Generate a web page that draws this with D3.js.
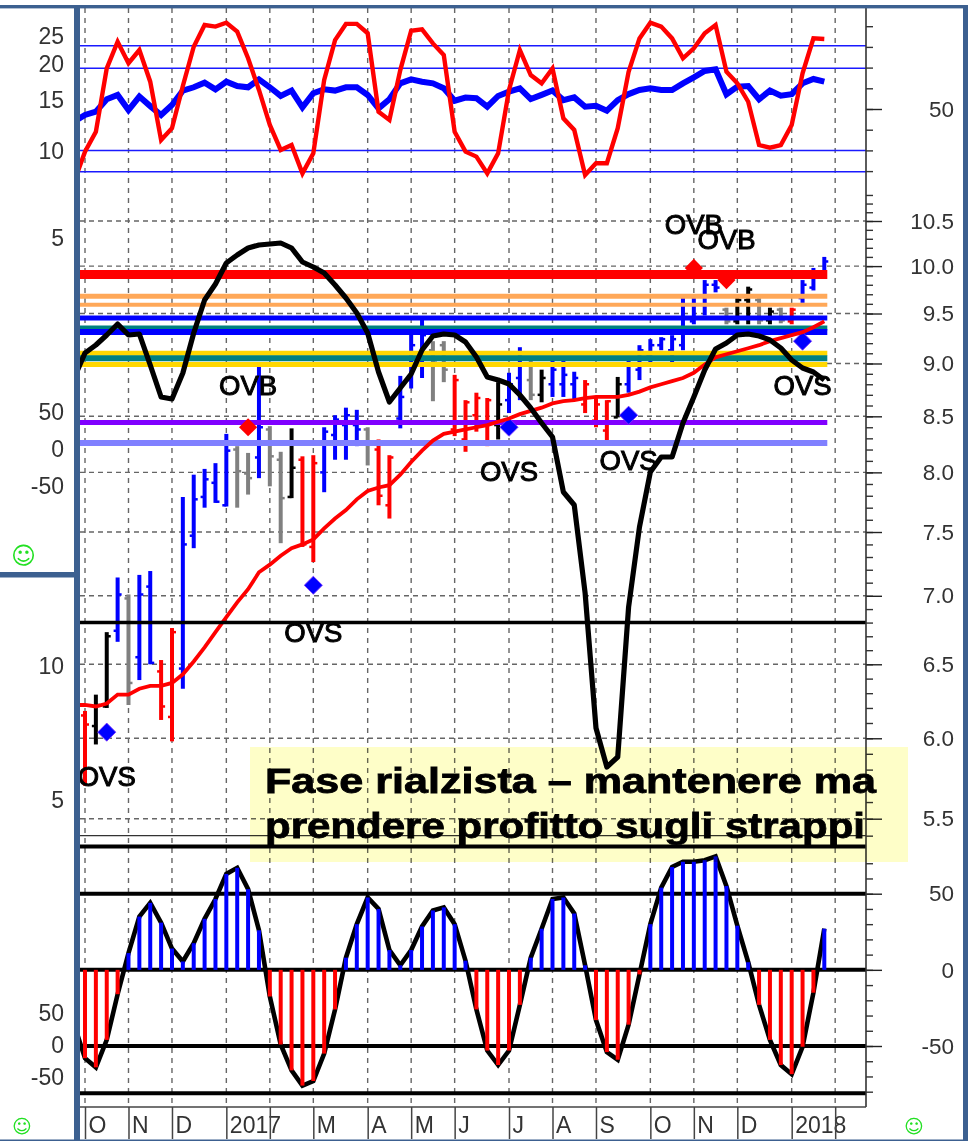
<!DOCTYPE html>
<html>
<head>
<meta charset="utf-8">
<style>
  html, body { margin: 0; padding: 0; background: #fff; }
  svg { display: block; }
  text { font-family: "Liberation Sans", Arial, sans-serif; }
</style>
<script src="https://cdn.jsdelivr.net/npm/d3@7"></script>
</head>
<body>
<svg id="chart" width="975" height="1141"></svg>
<script>
// Weekly values, index 0 is the week that falls just behind the left frame
const rsiSlow = [43.9,47.1,48.7,54.7,56.8,49.5,56.0,51.4,47.1,51.9,58.9,60.5,62.7,59.5,63.2,61.1,60.5,64.3,60.5,56.3,58.9,50.8,57.6,59.5,58.9,60.5,60.5,56.8,50.3,54.7,62.4,64.3,63.2,62.4,60.0,54.0,55.5,55.2,51.1,56.3,58.4,60.0,54.8,56.8,58.9,54.3,55.6,51.1,51.6,49.2,54.3,57.2,59.2,60.0,59.2,59.2,62.4,65.3,68.4,69.2,57.1,60.8,61.1,54.7,58.9,56.4,57.2,62.4,64.5,63.2];
const rsiFast = [14.9,29.4,39.0,69.6,82.5,72.1,78.5,63.2,35.0,40.7,61.1,80.1,90.6,89.8,91.7,87.4,74.5,59.2,42.3,30.2,32.6,18.9,28.6,64.0,83.3,91.1,91.1,86.6,48.7,44.7,68.8,87.8,88.5,81.7,76.1,39.0,29.4,27.0,18.9,28.6,59.2,78.5,66.4,62.4,69.6,45.5,39.9,18.1,23.8,23.8,40.7,68.0,84.1,91.7,89.8,84.1,74.5,79.3,86.6,90.6,68.0,62.4,53.5,32.6,31.3,32.6,42.3,67.2,84.1,83.8];
const rsiRefs = [80.5, 69.7, 29.9, 19.7];

const high = [6.3,6.18,6.29,6.73,7.14,7.01,7.16,7.19,6.53,6.76,7.79,7.98,8.03,8.08,8.34,8.23,8.17,9.01,8.41,8.18,8.39,8.14,8.15,8.40,8.51,8.58,8.56,8.40,8.29,8.15,8.88,9.31,9.46,9.22,9.22,8.89,8.65,8.72,8.67,8.82,8.91,9.16,9.03,8.94,9.03,9.03,8.92,8.84,8.67,8.65,8.87,9.03,9.18,9.24,9.26,9.28,9.66,9.66,9.85,9.85,9.56,9.66,9.78,9.66,9.56,9.56,9.56,9.85,9.98,10.10];
const low = [5.9,5.70,5.96,6.20,6.66,6.22,6.39,6.50,6.12,5.98,6.33,7.37,7.70,7.74,7.71,7.70,7.81,7.95,7.88,7.41,7.78,7.38,7.26,7.83,8.11,8.11,8.23,8.06,7.72,7.61,8.39,8.76,8.86,8.64,8.82,8.32,8.18,8.36,8.23,8.29,8.53,8.65,8.65,8.63,8.68,8.68,8.65,8.53,8.40,8.28,8.49,8.72,8.84,9.00,9.13,9.00,9.13,9.39,9.48,9.72,9.39,9.39,9.39,9.39,9.39,9.40,9.39,9.61,9.74,9.88];
const open = [6.2,6.15,6.08,6.21,6.74,6.98,6.55,7.07,6.45,6.14,6.47,7.47,7.79,7.91,7.72,8.20,7.99,8.13,8.38,8.11,7.79,8.11,7.38,8.00,8.33,8.42,8.42,8.38,8.20,7.72,8.48,8.84,8.99,9.13,9.18,8.38,8.29,8.51,8.42,8.42,8.65,8.86,8.84,8.70,8.80,8.80,8.80,8.61,8.46,8.37,8.49,8.80,8.94,9.08,9.18,9.13,9.18,9.42,9.59,9.80,9.54,9.42,9.64,9.64,9.43,9.54,9.42,9.66,9.77,9.90];
const close = [6.0,6.09,6.22,6.70,7.01,6.37,7.01,6.51,6.21,6.73,7.40,7.77,7.94,7.75,8.19,8.01,7.95,8.40,8.14,7.78,8.04,7.40,8.08,8.36,8.47,8.51,8.38,8.26,7.80,8.13,8.68,9.18,9.28,9.03,8.94,8.84,8.63,8.67,8.65,8.61,8.80,8.99,8.70,8.86,8.94,8.89,8.86,8.80,8.61,8.64,8.80,8.99,9.13,9.18,9.24,9.24,9.59,9.59,9.80,9.77,9.42,9.64,9.75,9.43,9.52,9.43,9.54,9.80,9.94,10.05];
// b blue, r red, k black, g gray
const barKinds = "rrkkbgbbrrbbbbbggbggkrrbbbbgrrbbbggrrrrkbbgkbbbrrrkbbbbbbbbbgkkgkgrbbb";

const movingAvg = [6.22,6.22,6.21,6.23,6.29,6.29,6.33,6.35,6.35,6.37,6.43,6.52,6.62,6.73,6.84,6.95,7.05,7.18,7.24,7.31,7.37,7.40,7.44,7.53,7.61,7.68,7.77,7.84,7.87,7.89,7.98,8.09,8.19,8.28,8.34,8.36,8.38,8.40,8.42,8.45,8.48,8.52,8.55,8.58,8.62,8.64,8.65,8.67,8.68,8.68,8.68,8.70,8.73,8.77,8.80,8.83,8.86,8.91,8.99,9.06,9.09,9.12,9.15,9.18,9.22,9.25,9.28,9.31,9.36,9.42];
const momentum = [82.4,87.4,89,91,93.2,91,91.2,85,78.6,78.2,83.4,91.4,98,101.2,105.4,107,108.4,109,109.2,109.4,108.4,105.6,104.6,103.4,101,98.4,95.4,91.4,83.6,77.6,80.4,83.2,88,90.8,91.2,91,89.6,86.6,82.6,82,81.2,79,76.4,73.4,70.6,59.6,57,39.4,12.4,4.6,6.6,36.6,52.6,63.6,66.6,66.6,73.4,78.6,84,88.2,89.4,91,91.2,90.8,90,88.4,86,84.4,83.6,82];

const osc = [-36,-58,-64,-46,-16,11,35,44,31,14,5.5,17.5,33.5,46.5,63,67,53,26,-17.5,-49,-66,-76,-73,-55,-26,8,30,47.5,40,13,3,13,28.5,39,41,30,6,-26,-53,-62.5,-53,-23,8,27,46.5,47.5,37,3,-33,-54,-59,-36,-3,30,54,67.5,71,71,72,74.5,55,29,5,-23,-46,-62.5,-68.5,-50.5,-15,27];
const oscRefs = [81, 50, 0, -50, -81];

// Support and resistance levels on the price scale
const levelPrices = [9.91, 9.68, 9.59, 9.454, 9.352, 9.312, 9.10, 9.05, 8.99, 8.443, 8.258];
const levelColors = ["#ff0000","#ffa858","#ffa858","#0000ff","#008080","#0000ff","#ffd700","#008080","#ffd700","#8000ff","#8080ff"];
const levelWidths = [9, 5, 4, 5, 5, 6, 5, 6, 5, 5, 6];
const blackPrices = [6.8];

const buyWeeks = [16, 57, 60];
const buyPrices = [8.40, 9.98, 9.85];
const sellWeeks = [3, 22, 40, 51, 67];
const sellPrices = [6.04, 7.08, 8.40, 8.51, 9.22];

const noteTexts = ["OVB","OVB","OVB","OVS","OVS","OVS","OVS","OVS"];
const noteWeeks = [16, 57, 60, 3, 22, 40, 51, 67];
const notePrices = [8.79, 10.46, 10.30, 5.76, 6.73, 8.01, 8.11, 8.79];

const monthWeeks = [1,5,9,14,18,22,27,31,35,40,44,48,53,57,61,66,70];
const monthLabels = ["O","N","D","2017","","M","A","M","J","J","A","S","O","N","D","2018",""];

const priceMajor = [10.5,10,9.5,9,8.5,8,7.5,7,6.5,6,5.5];
const rsiMinor = [90,80,70,60,50,40,30,20];
const calloutLines = ["Fase rialzista – mantenere ma", "prendere profitto sugli strappi"];
const calloutWidths = [611, 600];

const width = 975;
const height = 1141;
const plotLeft = 80;
const plotRight = 866;
const plotBottom = 1107;
const frameColor = "#3c6090";

const svg = d3.select("#chart");

svg.append("defs").append("clipPath").attr("id", "plot-clip")
  .append("rect").attr("x", plotLeft).attr("y", 8)
  .attr("width", plotRight - plotLeft).attr("height", plotBottom - 8);

// Scales
const x = d3.scaleLinear().domain([1, 69]).range([85, 824.3]);
const yRsi = d3.scaleLinear().domain([50, 80]).range([109, 46.9]);
const yPrice = d3.scaleLog().domain([10.5, 5.5]).range([221, 818.7]);
const yMomentum = d3.scaleLinear().domain([0, 100]).range([790, 290]);
const yOsc = d3.scaleLinear().domain([50, -50]).range([893.7, 1046]);
const yLeftTop = d3.scaleLog().domain([25, 5]).range([36, 238.3]);
const yLeftMid = d3.scaleLinear().domain([50, -50]).range([411.7, 485.7]);
const yLeftLow = d3.scaleLog().domain([10, 5]).range([665.7, 800]);
const yLeftBottom = d3.scaleLinear().domain([50, -50]).range([1012.7, 1076.7]);

const plot = svg.append("g").attr("clip-path", "url(#plot-clip)");

// Dashed grid
plot.append("g").selectAll("line").data(priceMajor).join("line")
  .attr("x1", plotLeft).attr("x2", plotRight)
  .attr("y1", (d) => yPrice(d)).attr("y2", (d) => yPrice(d))
  .attr("stroke", "#666").attr("stroke-width", 1.4).attr("stroke-dasharray", "5 4");
plot.append("g").selectAll("line").data(monthWeeks).join("line")
  .attr("x1", (d) => x(d)).attr("x2", (d) => x(d))
  .attr("y1", 8).attr("y2", plotBottom - 2)
  .attr("stroke", "#666").attr("stroke-width", 1.4).attr("stroke-dasharray", "5 5");

// Top panel
plot.append("g").selectAll("line").data(rsiRefs).join("line")
  .attr("x1", plotLeft).attr("x2", plotRight)
  .attr("y1", (d) => yRsi(d)).attr("y2", (d) => yRsi(d))
  .attr("stroke", "#1a1aff").attr("stroke-width", 1.5);

function weekLine(scale) {
  return d3.line().x((d, i) => x(i)).y((d) => scale(d));
}
plot.append("path").attr("d", weekLine(yRsi)(rsiSlow))
  .attr("fill", "none").attr("stroke", "#0000ff").attr("stroke-width", 6);
plot.append("path").attr("d", weekLine(yRsi)(rsiFast))
  .attr("fill", "none").attr("stroke", "#ff0000").attr("stroke-width", 4.4);

// Price bars with open and close ticks
const kindColor = { b: "#0000ff", r: "#ff0000", k: "#000000", g: "#808080" };
const bars = plot.append("g").selectAll("g").data(d3.range(1, high.length)).join("g")
  .attr("stroke", (i) => kindColor[barKinds[i]]);
bars.append("line")
  .attr("x1", (i) => x(i)).attr("x2", (i) => x(i))
  .attr("y1", (i) => yPrice(high[i])).attr("y2", (i) => yPrice(low[i]))
  .attr("stroke-width", 4);
bars.append("line")
  .attr("x1", (i) => x(i) - 4).attr("x2", (i) => x(i))
  .attr("y1", (i) => yPrice(open[i])).attr("y2", (i) => yPrice(open[i]))
  .attr("stroke-width", 2.5);
bars.append("line")
  .attr("x1", (i) => x(i)).attr("x2", (i) => x(i) + 4)
  .attr("y1", (i) => yPrice(close[i])).attr("y2", (i) => yPrice(close[i]))
  .attr("stroke-width", 2.5);

// Level bands stop at the last bar
plot.append("g").selectAll("line").data(levelPrices).join("line")
  .attr("x1", plotLeft).attr("x2", x(69) + 3)
  .attr("y1", (d) => yPrice(d)).attr("y2", (d) => yPrice(d))
  .attr("stroke", (d, i) => levelColors[i])
  .attr("stroke-width", (d, i) => levelWidths[i]);

// Signal diamonds
const diamond = d3.symbol().type(d3.symbolSquare).size(165)();
plot.append("g").selectAll("path").data(buyWeeks).join("path")
  .attr("d", diamond).attr("fill", "#ff0000")
  .attr("transform", (d, i) => `translate(${x(d)},${yPrice(buyPrices[i])}) rotate(45)`);
plot.append("g").selectAll("path").data(sellWeeks).join("path")
  .attr("d", diamond).attr("fill", "#0000ff").attr("stroke", "#7a33ff").attr("stroke-width", 0.8)
  .attr("transform", (d, i) => `translate(${x(d)},${yPrice(sellPrices[i])}) rotate(45)`);

plot.append("path").attr("d", weekLine(yPrice)(movingAvg))
  .attr("fill", "none").attr("stroke", "#ff0000").attr("stroke-width", 3.8);

plot.append("g").selectAll("line").data(blackPrices).join("line")
  .attr("x1", plotLeft).attr("x2", plotRight)
  .attr("y1", (d) => yPrice(d)).attr("y2", (d) => yPrice(d))
  .attr("stroke", "#000").attr("stroke-width", 3.5);

plot.append("path").attr("d", weekLine(yMomentum)(momentum))
  .attr("fill", "none").attr("stroke", "#000").attr("stroke-width", 5.2)
  .attr("stroke-linejoin", "round");

plot.append("g").selectAll("text").data(noteTexts).join("text")
  .attr("x", (d, i) => x(noteWeeks[i]))
  .attr("y", (d, i) => yPrice(notePrices[i]))
  .attr("dy", "0.36em")
  .attr("text-anchor", "middle")
  .attr("font-size", 27.5)
  .attr("stroke", "#000").attr("stroke-width", 1)
  .attr("fill", "#000")
  .text((d) => d);

// Thin separator under the price panel
plot.append("line").attr("x1", plotLeft).attr("x2", plotRight)
  .attr("y1", yPrice(5.4)).attr("y2", yPrice(5.4))
  .attr("stroke", "#333").attr("stroke-width", 1.2);

// Oscillator panel
plot.append("g").selectAll("line").data(oscRefs).join("line")
  .attr("x1", plotLeft).attr("x2", plotRight)
  .attr("y1", (d) => yOsc(d)).attr("y2", (d) => yOsc(d))
  .attr("stroke", "#000").attr("stroke-width", 4);
plot.append("path").attr("d", weekLine(yOsc)(osc))
  .attr("fill", "none").attr("stroke", "#000").attr("stroke-width", 4.6);
plot.append("g").selectAll("line").data(d3.range(1, osc.length)).join("line")
  .attr("x1", (i) => x(i)).attr("x2", (i) => x(i))
  .attr("y1", yOsc(0)).attr("y2", (i) => yOsc(osc[i]))
  .attr("stroke", (i) => (osc[i] >= 0 ? "#0000ff" : "#ff0000"))
  .attr("stroke-width", 4);

// Right axes
function rightAxis(scale, minor, major, fmt) {
  const g = svg.append("g").attr("transform", `translate(${plotRight},0)`);
  g.append("g").call(d3.axisRight(scale).tickValues(minor).tickSize(7).tickFormat(""))
    .call((s) => s.select(".domain").remove())
    .call((s) => s.selectAll("line").attr("stroke", "#333").attr("stroke-width", 1.4));
  g.append("g").call(d3.axisRight(scale).tickValues(major).tickSize(16).tickFormat(fmt))
    .call((s) => s.select(".domain").remove())
    .call((s) => s.selectAll("line").attr("stroke", "#222").attr("stroke-width", 1.4))
    .call((s) => s.selectAll("text")
      .attr("x", 88).attr("text-anchor", "end")
      .attr("font-size", 22.5).attr("fill", "#333")
      .attr("font-family", "Liberation Sans"));
}
rightAxis(yRsi, rsiMinor, [50], (d) => String(d));
rightAxis(yPrice, d3.range(54, 109).map((d) => d / 10), priceMajor, d3.format(".1f"));
rightAxis(yOsc, d3.range(-80, 71, 10), [50, 0, -50], (d) => String(d));

svg.append("line").attr("x1", plotRight).attr("x2", plotRight)
  .attr("y1", 8).attr("y2", plotBottom)
  .attr("stroke", "#333").attr("stroke-width", 1.6);

// Left labels, one group per overlaid indicator
function leftLabels(scale, values) {
  svg.append("g").attr("transform", "translate(64,0)")
    .call(d3.axisLeft(scale).tickValues(values).tickSize(0).tickPadding(0).tickFormat((d) => String(d)))
    .call((s) => s.select(".domain").remove())
    .call((s) => s.selectAll("text")
      .attr("font-size", 23).attr("fill", "#333")
      .attr("font-family", "Liberation Sans"));
}
leftLabels(yLeftTop, [25, 20, 15, 10, 5]);
leftLabels(yLeftMid, [50, 0, -50]);
leftLabels(yLeftLow, [10, 5]);
leftLabels(yLeftBottom, [50, 0, -50]);

// Month axis
const monthAxis = svg.append("g").attr("transform", `translate(0,${plotBottom})`)
  .call(d3.axisBottom(x).tickValues(monthWeeks).tickSize(32)
    .tickFormat((d, i) => monthLabels[i]));
monthAxis.select(".domain").remove();
monthAxis.selectAll("line").attr("stroke", "#444").attr("stroke-width", 1.5);
monthAxis.selectAll("text")
  .attr("x", 3).attr("y", 26).attr("dy", 0)
  .attr("text-anchor", "start")
  .attr("font-size", 23).attr("fill", "#333")
  .attr("font-family", "Liberation Sans");
svg.append("line").attr("x1", plotLeft).attr("x2", plotRight)
  .attr("y1", plotBottom).attr("y2", plotBottom)
  .attr("stroke", "#444").attr("stroke-width", 1.5);

// Callout over the chart
svg.append("rect").attr("x", 250).attr("y", 747).attr("width", 658).attr("height", 115)
  .attr("fill", "#fefec8").style("mix-blend-mode", "multiply");
svg.append("g").selectAll("text").data(calloutLines).join("text")
  .attr("x", 265).attr("y", (d, i) => 793 + i * 45)
  .attr("font-size", 35).attr("font-weight", "bold").attr("fill", "#000")
  .attr("stroke", "#000").attr("stroke-width", 0.8)
  .attr("textLength", (d, i) => calloutWidths[i])
  .attr("lengthAdjust", "spacingAndGlyphs")
  .text((d) => d);

// Frame
const frame = svg.append("g").attr("fill", frameColor);
frame.append("rect").attr("x", 0).attr("y", 5).attr("width", 968).attr("height", 3.4);
frame.append("rect").attr("x", 74).attr("y", 5).attr("width", 6).attr("height", 1136);
frame.append("rect").attr("x", 0).attr("y", 572).attr("width", 75).attr("height", 5.5);
frame.append("rect").attr("x", 963).attr("y", 5).attr("width", 5).attr("height", 1136);
frame.append("rect").attr("x", 0).attr("y", 1139.5).attr("width", 968).attr("height", 1.5);

// Smileys
svg.append("g").selectAll("text")
  .data([{ x: 23.5, y: 555, s: 24 }, { x: 22, y: 1126, s: 19 }, { x: 914, y: 1126, s: 19 }])
  .join("text")
  .attr("x", (d) => d.x).attr("y", (d) => d.y).attr("dy", "0.36em")
  .attr("text-anchor", "middle").attr("font-size", (d) => d.s)
  .style("font-family", "DejaVu Sans").attr("fill", "#22e022")
  .text("\u263A");
</script>
</body>
</html>
